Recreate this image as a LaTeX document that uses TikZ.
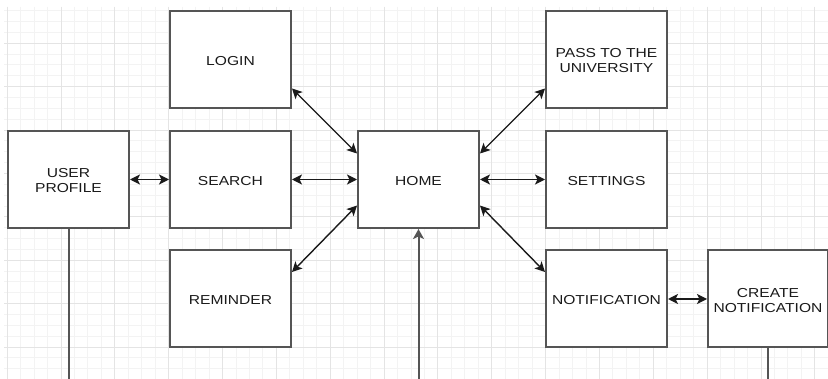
\documentclass[tikz,border=0pt]{standalone}
\usepackage{fontspec}
\setmainfont{Liberation Sans}[FakeStretch=1.2]
\usetikzlibrary{arrows.meta,calc}
\definecolor{boxline}{HTML}{555555}
\definecolor{minorg}{HTML}{F3F3F3}
\definecolor{majorg}{HTML}{E4E4E4}
\definecolor{ink}{HTML}{1A1A1A}
\newcommand\tx[1]{\raisebox{-3pt}[\height][\depth]{\begin{tabular}{@{}c@{}}#1\end{tabular}}}
\tikzset{
  box/.style={draw=boxline, line width=2pt, fill=white, minimum width=121pt, minimum height=97pt,
    inner sep=0pt, text=ink, font=\fontsize{13}{15}\selectfont},
  tipk/.tip={Stealth[length=10pt,width=10pt,inset=2.5pt]},
  biarr/.style={line width=1.4pt, draw=ink, tipk-tipk},
  onearr/.style={line width=2pt, draw=boxline, -{Stealth[length=10pt,width=11pt,inset=2.5pt]}},
  plainline/.style={line width=2pt, draw=boxline},
  minorgrid/.style={draw=minorg, line width=1pt},
  majorgrid/.style={draw=majorg, line width=1pt}
}
\begin{document}
\begin{tikzpicture}[x=1pt,y=-1pt]
\useasboundingbox (0,0) rectangle (828,379);
\fill[white] (0,0) rectangle (828,379);
% grid
\foreach \i in {0,...,61} {\pgfmathsetmacro\xx{7.15+13.4625*\i}\draw[minorgrid] (\xx,7) -- (\xx,379);}
\foreach \i in {1,...,34} {\pgfmathsetmacro\yy{-0.1+10.85*\i}\draw[minorgrid] (4,\yy) -- (828,\yy);}
\foreach \i in {0,...,15} {\pgfmathsetmacro\xx{7.15+53.85*\i}\draw[majorgrid] (\xx,7) -- (\xx,379);}
\foreach \i in {1,...,8} {\pgfmathsetmacro\yy{-0.1+43.4*\i}\draw[majorgrid] (4,\yy) -- (828,\yy);}
% nodes
\node[box] (login) at (230.5,59.5) {\tx{LOGIN}};
\node[box] (search) at (230.5,179.5) {\tx{SEARCH}};
\node[box] (reminder) at (230.5,299) {\tx{REMINDER}};
\node[box] (profile) at (68.5,179.5) {\tx{USER\\PROFILE}};
\node[box] (home) at (418.5,179.5) {\tx{HOME}};
\node[box] (pass) at (606.5,59.5) {\tx{PASS TO THE\\UNIVERSITY}};
\node[box] (settings) at (606.5,179.5) {\tx{SETTINGS}};
\node[box] (notif) at (606.5,299) {\tx{NOTIFICATION}};
\node[box, minimum width=120pt] (create) at (768,299) {\tx{CREATE\\NOTIFICATION}};
% free ends
\coordinate (pb) at (68.5,381);
\coordinate (hb) at (418.5,381);
\coordinate (cb) at (768,381);
% connectors
\draw[biarr] ([yshift=-29pt]login.east) -- ([yshift=26pt]home.west);
\draw[biarr] (search.east) -- (home.west);
\draw[biarr] ([yshift=27pt]reminder.east) -- ([yshift=-26pt]home.west);
\draw[biarr] (profile.east) -- (search.west);
\draw[biarr] ([yshift=26pt]home.east) -- ([yshift=-29pt]pass.west);
\draw[biarr] (home.east) -- (settings.west);
\draw[biarr] ([yshift=-26pt]home.east) -- ([yshift=27pt]notif.west);
\draw[biarr] (notif.east) -- (create.west);
\draw[plainline] (profile.south) -- (pb);
\draw[onearr] (hb) -- (home.south);
\draw[plainline] (create.south) -- (cb);
\end{tikzpicture}
\end{document}
